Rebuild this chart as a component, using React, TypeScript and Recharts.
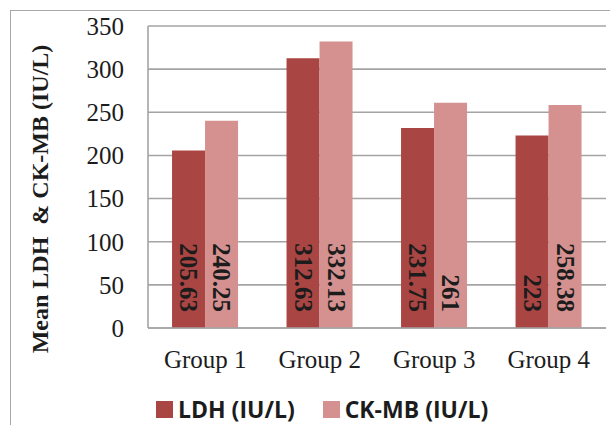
import { Bar, BarChart, CartesianGrid, LabelList, Legend, XAxis, YAxis } from "recharts";

const groups = ["Group 1", "Group 2", "Group 3", "Group 4"];
const ldhValues = [205.63, 312.63, 231.75, 223];
const ckmbValues = [240.25, 332.13, 261, 258.38];
const yTicks = [0, 50, 100, 150, 200, 250, 300, 350];

const seriesNames = ["LDH (IU/L)", "CK-MB (IU/L)"];
const colors = ["#A94542", "#D4918F"];

const data = groups.map((g, i) => ({ group: g, ldh: ldhValues[i], ckmb: ckmbValues[i] }));

const serif = "'Liberation Serif', 'Times New Roman', serif";

function InsideLabel(props: any) {
  const { x, y, width, height, value } = props;
  const cx = Number(x) + Number(width) / 2;
  const by = Number(y) + Number(height) - 16;
  return (
    <text
      x={cx}
      y={by}
      transform={`rotate(90 ${cx} ${by})`}
      textAnchor="end"
      dominantBaseline="central"
      fontFamily={serif}
      fontWeight="bold"
      fontSize={25}
      fill="#1c1c1c"
    >
      {value}
    </text>
  );
}

function LegendContent() {
  return (
    <div style={{ display: "flex", alignItems: "center", fontFamily: "'Open Sans', sans-serif", fontWeight: 700, fontSize: 23, color: "#1c1c1c" }}>
      {seriesNames.map((n, i) => (
        <div key={n} style={{ display: "flex", alignItems: "center", marginRight: 28 }}>
          <span style={{ display: "inline-block", width: 17, height: 17, background: colors[i], marginRight: 5 }} />
          <span>{n}</span>
        </div>
      ))}
    </div>
  );
}

export default function App() {
  return (
    <div style={{ position: "absolute", left: 0, top: 0, width: 610, height: 425, background: "#fff" }}>
      <div
        style={{
          position: "absolute",
          left: 10,
          top: 10,
          width: 600,
          height: 415,
          borderLeft: "1.5px solid #A8A8A8",
          borderTop: "1.5px solid #A8A8A8",
        }}
      />
      <BarChart
        width={610}
        height={425}
        data={data}
        margin={{ top: 26, right: 4, left: 0, bottom: 15 }}
        barCategoryGap="21%"
        barGap={0}
        style={{ position: "absolute", left: 0, top: 0 }}
      >
        <CartesianGrid vertical={false} stroke="#A4A4A4" strokeWidth={1.6} />
        <XAxis
          dataKey="group"
          axisLine={{ stroke: "#A4A4A4", strokeWidth: 1.6 }}
          tickLine={false}
          tickSize={0}
          tickMargin={22}
          height={50}
          tick={{ fontFamily: serif, fontSize: 25, fill: "#1c1c1c" }}
        />
        <YAxis
          domain={[0, 350]}
          ticks={yTicks}
          width={148}
          axisLine={{ stroke: "#A4A4A4", strokeWidth: 1.6 }}
          tickLine={false}
          tickSize={0}
          tickMargin={24}
          tick={{ fontFamily: serif, fontSize: 25, fill: "#1c1c1c" }}
          label={{
            value: "Mean LDH\u00a0\u00a0& CK-MB (IU/L)",
            angle: -90,
            position: "insideLeft",
            dx: 34,
            dy: 22,
            style: { fontFamily: serif, fontWeight: "bold", fontSize: 24, fill: "#1c1c1c", textAnchor: "middle" },
          }}
        />
        <Legend verticalAlign="bottom" align="left" wrapperStyle={{ left: 156, top: 393 }} content={<LegendContent />} />
        <Bar dataKey="ldh" name={seriesNames[0]} fill={colors[0]} isAnimationActive={false}>
          <LabelList dataKey="ldh" content={<InsideLabel />} />
        </Bar>
        <Bar dataKey="ckmb" name={seriesNames[1]} fill={colors[1]} isAnimationActive={false}>
          <LabelList dataKey="ckmb" content={<InsideLabel />} />
        </Bar>
      </BarChart>
    </div>
  );
}
